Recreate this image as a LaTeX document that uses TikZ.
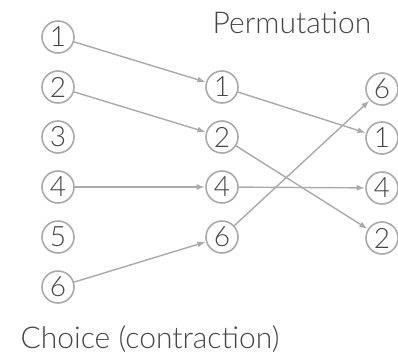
\documentclass[tikz,border=0pt]{standalone}
\usepackage{fontspec}
\setmainfont{Lato Light}
\usetikzlibrary{arrows.meta}
\definecolor{ringgray}{RGB}{170,170,170}
\definecolor{textgray}{RGB}{70,70,70}

\tikzset{
    elem/.style={circle, draw=ringgray, line width=1.6pt, minimum size=32pt, inner sep=0pt,
        text=textgray, font=\fontsize{28}{28}\selectfont},
    link/.style={draw=ringgray, line width=1.4pt, -{Latex[length=8pt, width=6pt]}, shorten >=0.5pt},
    caption/.style={anchor=base, text=textgray, font=\fontsize{30}{30}\selectfont}
}

\begin{document}
\begin{tikzpicture}[x=1pt, y=-1pt]
\useasboundingbox (0, 0) rectangle (398, 359);

% Input column
\draw (58, 37) node[elem] (A1) {1};
\draw (58, 87) node[elem] (A2) {2};
\draw (58, 137) node[elem] (A3) {3};
\draw (58, 187) node[elem] (A4) {4};
\draw (58, 237) node[elem] (A5) {5};
\draw (58, 287) node[elem] (A6) {6};

% Chosen elements
\draw (222, 87) node[elem] (B1) {1};
\draw (222, 137) node[elem] (B2) {2};
\draw (222, 187) node[elem] (B4) {4};
\draw (222, 237) node[elem] (B6) {6};

% Permuted elements
\draw (382, 89) node[elem] (C6) {6};
\draw (382, 138) node[elem] (C1) {1};
\draw (382, 188) node[elem] (C4) {4};
\draw (382, 238) node[elem] (C2) {2};

% Choice
\draw[link] (A1) -- (B1);
\draw[link] (A2) -- (B2);
\draw[link] (A4) -- (B4);
\draw[link] (A6) -- (B6);

% Permutation
\draw[link] (B1) -- (C1);
\draw[link] (B2) -- (C2);
\draw[link] (B4) -- (C4);
\draw[link] (B6) -- (C6);

% Titles
\node[caption] (perm) at (292, 33) {Permutation};
\node[caption] (choice) at (150, 348) {Choice (contraction)};

\end{tikzpicture}
\end{document}
